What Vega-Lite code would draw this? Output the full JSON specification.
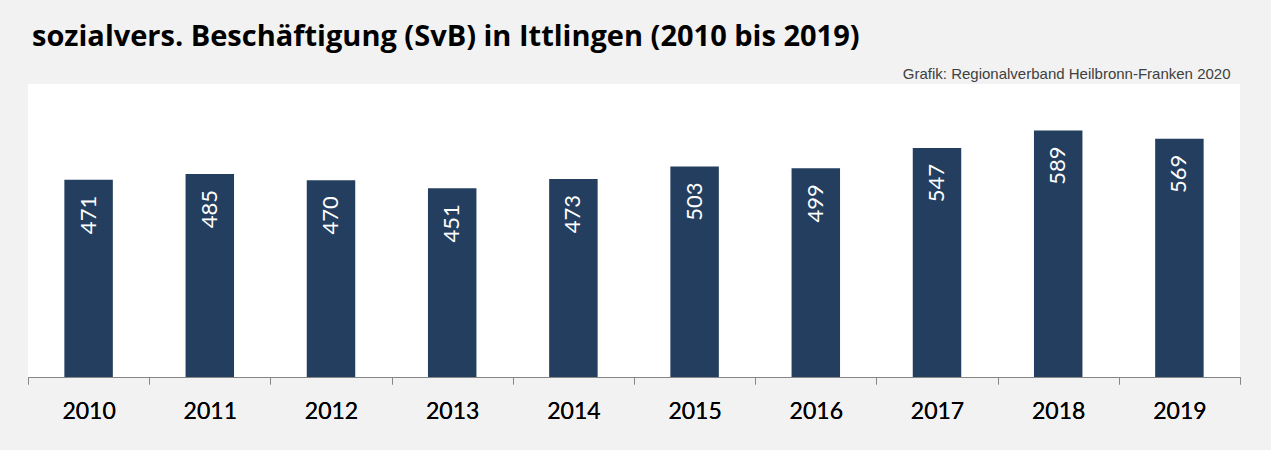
{
  "$schema": "https://vega.github.io/schema/vega-lite/v6.json",
  "width": 1212,
  "height": 293,
  "autosize": {"type": "none"},
  "padding": {"left": 28, "top": 84, "right": 31, "bottom": 73},
  "background": "#f2f2f2",
  "config": {"view": {"fill": "white", "stroke": null}},
  "title": {
    "text": "sozialvers. Beschäftigung (SvB) in Ittlingen (2010 bis 2019)",
    "anchor": "start",
    "frame": "group",
    "font": "Open Sans",
    "fontSize": 29,
    "fontWeight": "bold",
    "color": "black",
    "dx": 4,
    "offset": 14
  },
  "data": {
    "values": [
      {"year": "2010", "value": 471},
      {"year": "2011", "value": 485},
      {"year": "2012", "value": 470},
      {"year": "2013", "value": 451},
      {"year": "2014", "value": 473},
      {"year": "2015", "value": 503},
      {"year": "2016", "value": 499},
      {"year": "2017", "value": 547},
      {"year": "2018", "value": 589},
      {"year": "2019", "value": 569}
    ]
  },
  "encoding": {
    "x": {
      "field": "year",
      "type": "ordinal",
      "scale": {"paddingInner": 0, "paddingOuter": 0},
      "axis": {
        "title": null,
        "orient": "bottom",
        "tickBand": "extent",
        "domainColor": "#868686",
        "tickColor": "#868686",
        "tickSize": 7,
        "labelFont": "Lato",
        "labelFontSize": 23,
        "labelFontWeight": "normal",
        "labelColor": "black",
        "labelPadding": 16,
        "labelAngle": 0,
        "grid": false
      }
    },
    "y": {
      "field": "value",
      "type": "quantitative",
      "scale": {"domain": [0, 700]},
      "axis": null
    }
  },
  "resolve": {"axis": {"x": "independent"}},
  "layer": [
    {"mark": {"type": "bar", "color": "#243e5f", "width": {"band": 0.4}}},
    {
      "mark": {"type": "text", "angle": 270, "align": "right", "baseline": "middle", "dx": -16, "color": "white", "font": "Lato", "fontSize": 22},
      "encoding": {"text": {"field": "value", "type": "quantitative"}}
    },
    {
      "mark": {"type": "rule", "opacity": 0},
      "encoding": {
        "x": {
          "field": "year",
          "type": "ordinal",
          "axis": {
            "orient": "top",
            "title": "Grafik: Regionalverband Heilbronn-Franken 2020",
            "titleFont": "Liberation Sans",
            "titleFontSize": 15,
            "titleFontWeight": "normal",
            "titleColor": "#404040",
            "titleAnchor": "end",
            "titleX": 1202,
            "titleAlign": "right",
            "titlePadding": 3,
            "labels": false,
            "ticks": false,
            "domain": false,
            "grid": false
          }
        }
      }
    }
  ]
}
